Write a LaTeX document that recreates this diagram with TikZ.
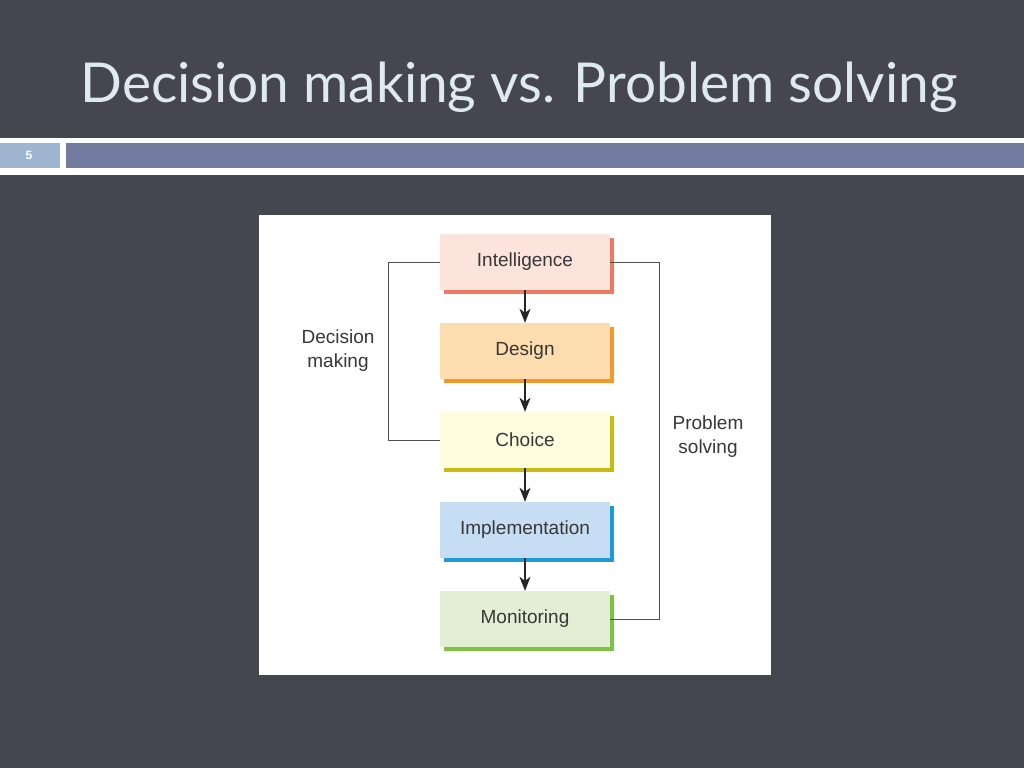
\documentclass[tikz,border=0pt]{standalone}
\usepackage{fontspec}
\setmainfont{Liberation Sans}
\newfontfamily\titlefont{Lato}
\usetikzlibrary{shadows,arrows.meta}
\definecolor{bg}{RGB}{70,70,80}
\definecolor{titlec}{RGB}{222,234,240}
\definecolor{numbox}{RGB}{157,181,207}
\definecolor{barc}{RGB}{114,122,160}
\definecolor{txt}{RGB}{55,55,55}
\definecolor{lnc}{RGB}{80,80,80}
\definecolor{intf}{RGB}{252,228,220}\definecolor{ints}{RGB}{238,122,96}
\definecolor{desf}{RGB}{253,220,176}\definecolor{dess}{RGB}{243,152,42}
\definecolor{chof}{RGB}{254,253,224}\definecolor{chos}{RGB}{200,186,16}
\definecolor{impf}{RGB}{198,221,243}\definecolor{imps}{RGB}{30,154,214}
\definecolor{monf}{RGB}{226,239,212}\definecolor{mons}{RGB}{125,194,66}
\tikzset{
  stage/.style={minimum width=170pt, minimum height=56pt, inner sep=0pt,
    font=\fontsize{19}{22}\selectfont, text=txt,
    general shadow={shadow xshift=4pt, shadow yshift=-4pt, fill=#1, opacity=1}},
  flow/.style={draw=black!85, line width=1.2pt, -{Stealth[length=14pt,width=11pt,inset=4pt]}},
  brk/.style={draw=lnc, line width=0.9pt},
  side/.style={font=\fontsize{19}{24}\selectfont, text=txt, align=center}
}
\begin{document}
\begin{tikzpicture}[x=1pt,y=-1pt]
\fill[bg] (0,0) rectangle (1024,768);
\useasboundingbox (0,0) rectangle (1024,768);
\node[font=\titlefont\fontsize{55}{66}\selectfont, text=titlec] (title) at (519,87) {Decision making vs. Problem solving};
\fill[white] (0,138) rectangle (1024,175);
\fill[numbox] (0,143) rectangle (60,168);
\fill[barc] (66,143) rectangle (1024,168);
\node[text=white, font=\bfseries\fontsize{12}{14}\selectfont] (num) at (29,155) {5};
\fill[white] (259,215) rectangle (771,675);
\node[stage=ints, fill=intf] (int) at (525,262) {Intelligence};
\node[stage=dess, fill=desf] (des) at (525,351) {Design};
\node[stage=chos, fill=chof] (cho) at (525,440) {Choice};
\node[stage=imps, fill=impf] (imp) at (525,530) {Implementation};
\node[stage=mons, fill=monf] (mon) at (525,619) {Monitoring};
\draw[flow] (int.south) -- (des.north);
\draw[flow] (des.south) -- (cho.north);
\draw[flow] (cho.south) -- (imp.north);
\draw[flow] (imp.south) -- (mon.north);
\coordinate (l1) at (388,262);
\coordinate (l2) at (388,440);
\coordinate (r1) at (659,262);
\coordinate (r2) at (659,619);
\draw[brk] (int.west) -- (l1) -- (l2) -- (cho.west);
\draw[brk] (int.east) -- (r1) -- (r2) -- (mon.east);
\node[side] (dm) at (338,351) {Decision\\making};
\node[side] (ps) at (708,437) {Problem\\solving};
\end{tikzpicture}
\end{document}
